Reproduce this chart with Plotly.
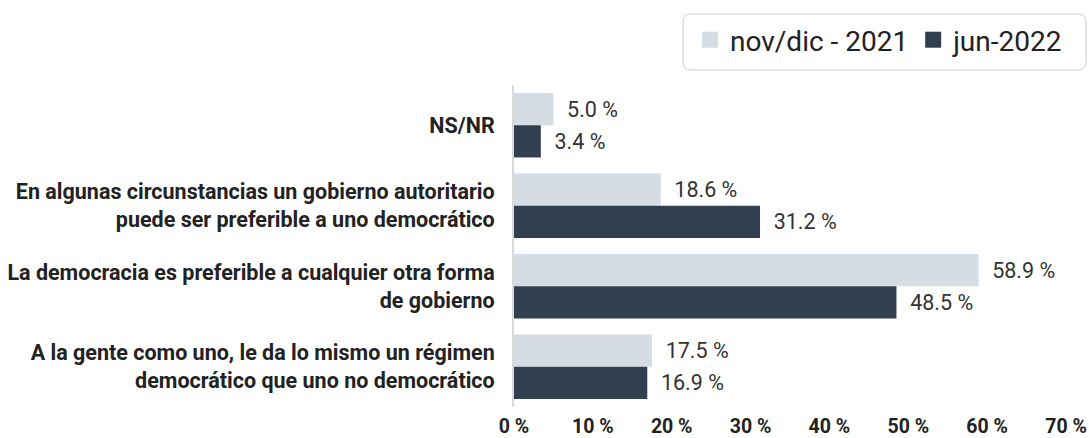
import plotly.graph_objects as go

categories = [
    "NS/NR",
    "En algunas circunstancias un gobierno autoritario<br>puede ser preferible a uno democrático",
    "La democracia es preferible a cualquier otra forma<br>de gobierno",
    "A la gente como uno, le da lo mismo un régimen<br>democrático que uno no democrático",
]
series_names = ["nov/dic - 2021", "jun-2022"]
values_2021 = [5.0, 18.6, 58.9, 17.5]
values_2022 = [3.4, 31.2, 48.5, 16.9]
tick_vals = [0, 10, 20, 30, 40, 50, 60, 70]
tick_text = ["0 %", "10 %", "20 %", "30 %", "40 %", "50 %", "60 %", "70 %"]

colors = ["#D6DCE4", "#323F4F"]
pad = "\u00a0" * 2

fig = go.Figure()
for name, vals, col in zip(series_names, [values_2021, values_2022], colors):
    fig.add_trace(go.Bar(
        y=categories, x=vals, name=name, orientation="h",
        marker=dict(color=col, line=dict(width=0)),
        text=[f"{pad}{v:.1f} %" for v in vals],
        textposition="outside", cliponaxis=False,
        textfont=dict(family="Roboto", size=21.5, color="#333333"),
        hoverinfo="skip", showlegend=False,
    ))
# legend entries (square swatches)
for name, col in zip(series_names, colors):
    fig.add_trace(go.Scatter(
        x=[None], y=[None], mode="markers", name=name,
        marker=dict(symbol="square", size=16, color=col),
        hoverinfo="skip", showlegend=True,
    ))

fig.update_layout(
    width=1089, height=438,
    margin=dict(l=514, r=23, t=85, b=31, autoexpand=False),
    barmode="group", bargap=0.2, bargroupgap=0,
    plot_bgcolor="white", paper_bgcolor="white",
    font=dict(family="Roboto", color="#222222"),
    showlegend=True,
    legend=dict(
        orientation="h", xref="container", yref="container",
        x=690 / 1089, xanchor="left", y=1 - 40 / 438, yanchor="middle",
        font=dict(family="Roboto", size=28, color="#222222"),
        bgcolor="rgba(0,0,0,0)", borderwidth=0,
        traceorder="normal", itemwidth=30,
    ),
)
fig.add_shape(
    type="path", xref="paper", yref="paper",
    xsizemode="pixel", ysizemode="pixel", xanchor=0, yanchor=1,
    path="M 177,71 L 564,71 Q 572,71 572,63 L 572,23 Q 572,15 564,15 L 177,15 Q 169,15 169,23 L 169,63 Q 169,71 177,71 Z",
    line=dict(color="#CCCCCC", width=1), fillcolor="rgba(0,0,0,0)", layer="below",
)
fig.update_xaxes(
    range=[0, 70], tickvals=tick_vals, ticktext=tick_text,
    showgrid=False, zeroline=False, showline=False,
    ticks="outside", ticklen=2, tickcolor="rgba(0,0,0,0)",
    tickfont=dict(family="Roboto", size=19.5, color="#222222", weight="bold"),
)
fig.update_yaxes(
    autorange="reversed", showgrid=False, zeroline=False,
    showline=True, linecolor="#D9D9D9", linewidth=2,
    ticks="outside", ticklen=13, tickcolor="rgba(0,0,0,0)",
    tickfont=dict(family="Roboto", size=21.5, color="#222222", weight="bold"),
)

fig.write_html("out.html", config={"displayModeBar": False},
               post_script="document.body.style.margin='0';")
